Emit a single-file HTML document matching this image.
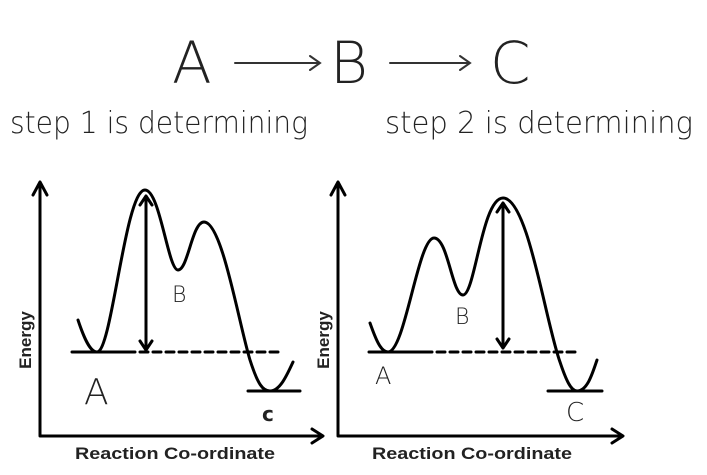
<!DOCTYPE html>
<html><head><style>
html,body{margin:0;padding:0;background:#fff;}
svg{display:block;}
.hw{font-family:"DejaVu Sans","Liberation Sans",sans-serif;font-weight:200;fill:#222;}
.lb{font-family:"Liberation Sans",sans-serif;font-weight:bold;fill:#222;}
</style></head><body>
<svg width="707" height="475" viewBox="0 0 707 475" xmlns="http://www.w3.org/2000/svg">
<g class="hw">
<text x="172" y="83" font-size="58">A</text>
<text x="330" y="83" font-size="58">B</text>
<text x="490" y="83" font-size="58">C</text>
<text x="10" y="133" font-size="30" textLength="298" lengthAdjust="spacingAndGlyphs">step 1 is determining</text>
<text x="385" y="133" font-size="30" textLength="308" lengthAdjust="spacingAndGlyphs">step 2 is determining</text>
</g>
<g stroke="#333" stroke-width="2" fill="none" stroke-linecap="round">
<path d="M235 63 H320 M310 56 L320 63 L310 70"/>
<path d="M390 63 H470 M460 56 L470 63 L460 70"/>
</g>
<g stroke="#000" stroke-width="3" fill="none" stroke-linecap="round" stroke-linejoin="round">
<path d="M40 184 V436 H320"/>
<path d="M33 195 L40 182 L47 195"/>
<path d="M312 429 L323 436 L312 443"/>
<path d="M78 320 C84 338 90 352 97 352 C112 352 125 190 145 190 C160 190 168 270 178 270 C188 270 192 222 204 222 C222 222 238 320 250 360 C258 385 263 391 270 391 C280 391 287 375 293 362"/>
<path d="M72 352 H135"/>
<path d="M140 352 H278" stroke-dasharray="8 5"/>
<path d="M248 391 H300"/>
<path d="M146 196 V350 M140 205 L146 196 L152 205 M140 341 L146 350 L152 341"/>
<path d="M338 184 V436 H620"/>
<path d="M331 195 L338 182 L345 195"/>
<path d="M612 429 L623 436 L612 443"/>
<path d="M370 323 C376 340 381 352 388 352 C405 352 418 238 434 238 C448 238 452 295 463 295 C475 295 482 198 503 198 C528 198 545 320 560 362 C566 380 571 391 577 391 C587 391 592 375 597 360"/>
<path d="M369 352 H432"/>
<path d="M437 352 H577" stroke-dasharray="8 5"/>
<path d="M548 391 H602"/>
<path d="M503 203 V348 M497 212 L503 203 L509 212 M497 339 L503 348 L509 339"/>
</g>
<g class="hw">
<text x="84" y="404" font-size="36">A</text>
<text x="172" y="302" font-size="22">B</text>
<text x="262" y="421" font-size="20" font-weight="bold">c</text>
<text x="375" y="384" font-size="24">A</text>
<text x="455" y="324" font-size="22">B</text>
<text x="566" y="421" font-size="26">C</text>
</g>
<g class="lb">
<text x="75" y="459" font-size="17" textLength="200" lengthAdjust="spacingAndGlyphs">Reaction Co-ordinate</text>
<text x="372" y="459" font-size="17" textLength="200" lengthAdjust="spacingAndGlyphs">Reaction Co-ordinate</text>
<text transform="translate(31,340) rotate(-90)" font-size="17" text-anchor="middle">Energy</text>
<text transform="translate(329,340) rotate(-90)" font-size="17" text-anchor="middle">Energy</text>
</g>
</svg>
</body></html>
